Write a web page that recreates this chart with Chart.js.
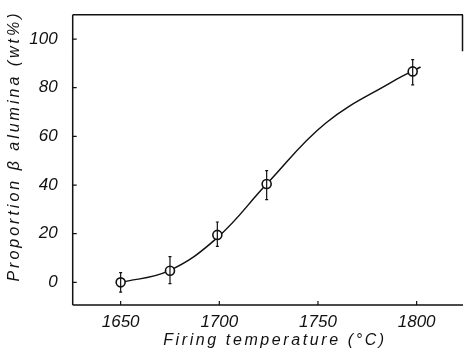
<!DOCTYPE html>
<html>
<head>
<meta charset="utf-8">
<script src="https://cdn.jsdelivr.net/npm/chart.js@4"></script>
<style>
html,body{margin:0;padding:0;background:#fff;}
#wrap{width:464px;height:354px;}
</style>
</head>
<body>
<div id="wrap"><canvas id="c" width="464" height="354"></canvas></div>
<script>
// Measured points
const temps = [1650, 1675, 1699, 1724, 1798];
const proportion = [0, 4.8, 19.5, 40.4, 86.7];
const errUp = [4, 5.8, 5.3, 5.5, 4.8];
const errDown = [4, 5.3, 4.7, 6.4, 5.5];
// Fitted curve
const curveT = [1650, 1674, 1699, 1724, 1754, 1788, 1802];
const curveP = [0, 4.6, 18.4, 40.4, 65.5, 82.6, 88.5];
// Axis ticks
const xTicks = [1650, 1700, 1750, 1800];
const yTicks = [0, 20, 40, 60, 80, 100];
const xTitle = 'Firing temperature (°C)';
const yTitle = 'Proportion β alumina (wt%)';

const FONT = '"Liberation Sans", Arial, sans-serif';

const framePlugin = {
  id: 'frame',
  afterDatasetsDraw(chart) {
    const {ctx, scales: {x, y}} = chart;
    ctx.save();
    ctx.strokeStyle = '#111';
    ctx.lineWidth = 1.2;
    temps.forEach((t, i) => {
      const px = x.getPixelForValue(t);
      const pTop = y.getPixelForValue(proportion[i] + errUp[i]);
      const pBot = y.getPixelForValue(proportion[i] - errDown[i]);
      ctx.beginPath();
      ctx.moveTo(px, pTop); ctx.lineTo(px, pBot);
      ctx.moveTo(px - 1.5, pTop); ctx.lineTo(px + 1.5, pTop);
      ctx.moveTo(px - 1.5, pBot); ctx.lineTo(px + 1.5, pBot);
      ctx.stroke();
    });
    ctx.restore();
  },
  afterDraw(chart) {
    const {ctx, chartArea: a, scales: {x, y}} = chart;
    ctx.save();
    ctx.strokeStyle = '#111';
    ctx.lineWidth = 1.5;
    ctx.beginPath();
    ctx.moveTo(a.left, a.top); ctx.lineTo(a.right, a.top);
    ctx.moveTo(a.left, a.top); ctx.lineTo(a.left, a.bottom);
    ctx.moveTo(a.left, a.bottom); ctx.lineTo(a.right, a.bottom);
    ctx.moveTo(a.right - 0.5, a.top); ctx.lineTo(a.right - 0.5, y.getPixelForValue(95));
    ctx.stroke();
    ctx.lineWidth = 1.2;
    ctx.beginPath();
    xTicks.forEach(v => {
      const px = x.getPixelForValue(v);
      ctx.moveTo(px, a.bottom); ctx.lineTo(px, a.bottom - 4);
    });
    yTicks.forEach(v => {
      const py = y.getPixelForValue(v);
      ctx.moveTo(a.left, py); ctx.lineTo(a.left + 4, py);
    });
    ctx.stroke();
    ctx.fillStyle = '#111';
    ctx.font = 'italic 16px ' + FONT;
    ctx.letterSpacing = '2.6px';
    ctx.textAlign = 'center';
    ctx.textBaseline = 'middle';
    ctx.fillText(xTitle, 275, 341);
    ctx.translate(15, 146);
    ctx.rotate(-Math.PI / 2);
    ctx.letterSpacing = '3px';
    ctx.fillText(yTitle, 0, 0);
    ctx.restore();
  }
};

new Chart(document.getElementById('c'), {
  type: 'line',
  data: {
    datasets: [
      {
        label: 'points',
        data: temps.map((t, i) => ({x: t, y: proportion[i]})),
        showLine: false,
        pointRadius: 4.5,
        pointBackgroundColor: '#fff',
        pointBorderColor: '#111',
        pointBorderWidth: 1.6,
        order: 0
      },
      {
        label: 'fit',
        data: curveT.map((t, i) => ({x: t, y: curveP[i]})),
        borderColor: '#111',
        borderWidth: 1.5,
        pointRadius: 0,
        tension: 0.4,
        fill: false,
        order: 1
      }
    ]
  },
  options: {
    responsive: false,
    animation: false,
    events: [],
    layout: {autoPadding: false, padding: {top: 14.7, right: 1, left: 0, bottom: 0}},
    plugins: {legend: {display: false}, tooltip: {enabled: false}},
    scales: {
      x: {
        type: 'linear',
        min: 1625.7,
        max: 1823.5,
        grid: {display: false, drawTicks: false},
        border: {display: false},
        afterBuildTicks: s => { s.ticks = xTicks.map(v => ({value: v})); },
        afterFit: s => { s.height = 49; s.paddingLeft = 0; s.paddingRight = 0; },
        ticks: {
          color: '#111',
          padding: 7,
          maxRotation: 0,
          font: {family: FONT, size: 17, style: 'italic'},
          callback: v => String(v)
        }
      },
      y: {
        type: 'linear',
        min: -9.3,
        max: 110,
        grid: {display: false, drawTicks: false},
        border: {display: false},
        afterBuildTicks: s => { s.ticks = yTicks.map(v => ({value: v})); },
        afterFit: s => { s.width = 72.7; s.paddingTop = 0; s.paddingBottom = 0; },
        ticks: {
          color: '#111',
          padding: 15,
          font: {family: FONT, size: 17, style: 'italic'},
          callback: v => String(v)
        }
      }
    }
  },
  plugins: [framePlugin]
});
</script>
</body>
</html>
